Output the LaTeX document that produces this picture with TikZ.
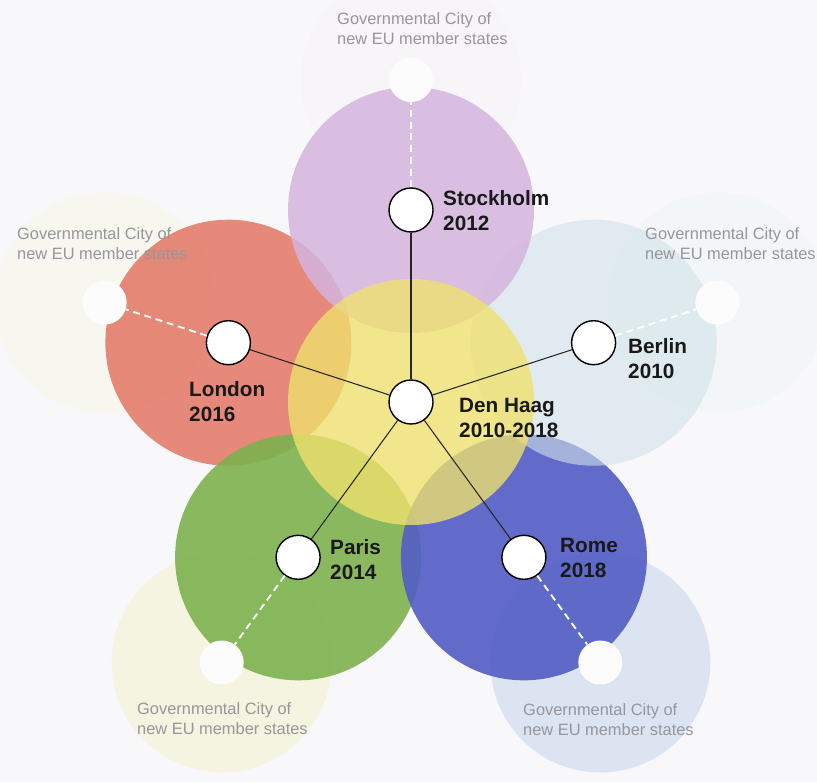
\documentclass[tikz,border=0pt]{standalone}
\usepackage{fontspec}
\setmainfont{Liberation Sans}
\definecolor{bgc}{RGB}{248,248,251}
\definecolor{petred}{RGB}{229,124,108}
\definecolor{petpurple}{RGB}{212,180,222}
\definecolor{petgreen}{RGB}{125,178,78}
\definecolor{petblue}{RGB}{82,92,196}
\definecolor{petlight}{RGB}{210,226,233}
\definecolor{petyellow}{RGB}{240,226,108}
\definecolor{faintblue}{RGB}{220,228,242}
\definecolor{faintyellow}{RGB}{244,244,224}
\definecolor{faintpink}{RGB}{248,245,249}
\definecolor{faintcyan}{RGB}{243,246,249}
\definecolor{faintleft}{RGB}{247,247,240}
\definecolor{spotc}{RGB}{252,252,253}
\definecolor{govgrey}{RGB}{150,150,156}
\begin{document}
\begin{tikzpicture}[x=0.03cm,y=-0.03cm,
  city/.style={circle,draw=black,line width=1.2pt,fill=white,minimum size=1.32cm,inner sep=0pt},
  spot/.style={circle,fill=spotc,minimum size=1.32cm,inner sep=0pt},
  link/.style={draw=black!85,line width=0.9pt},
  dashlink/.style={draw=white,line width=1.6pt,dash pattern=on 6pt off 4pt},
  petal/.style={fill opacity=0.9},
  lbl/.style={anchor=north west,inner sep=0pt,align=left,font=\fontsize{17.7}{21.3}\selectfont\bfseries,text=black!90},
  gov/.style={anchor=north west,inner sep=0pt,align=left,font=\fontsize{14}{17}\selectfont,text=govgrey}]
\fill[bgc] (0,0) rectangle (817,782);
\useasboundingbox (0,0) rectangle (817,782);
% faint outer circles
\fill[faintpink] (411,80) circle[radius=3.3cm];
\fill[faintcyan] (717.3,302.5) circle[radius=3.3cm];
\fill[faintleft] (104.7,302.5) circle[radius=3.3cm];
\fill[faintyellow] (221.7,662.5) circle[radius=3.3cm];
\fill[faintblue] (600.3,662.5) circle[radius=3.3cm];
% petals
\fill[petred,petal] (228.4,342.7) circle[radius=3.69cm];
\fill[petgreen,petal] (298.1,557.3) circle[radius=3.69cm];
\fill[petblue,petal] (523.9,557.3) circle[radius=3.69cm];
\fill[petlight,fill opacity=0.6] (593.6,342.7) circle[radius=3.69cm];
\fill[petpurple,fill opacity=0.85] (411,210) circle[radius=3.69cm];
\fill[petyellow,fill opacity=0.78] (411,402) circle[radius=3.69cm];
% outer spots
\node[spot] (sTop) at (411,80) {};
\node[spot] (sRight) at (717.3,302.5) {};
\node[spot] (sLeft) at (104.7,302.5) {};
\node[spot] (sBL) at (221.7,662.5) {};
\node[spot] (sBR) at (600.3,662.5) {};
% city nodes
\node[city] (haag) at (411,402) {};
\node[city] (stock) at (411,210) {};
\node[city] (berlin) at (593.6,342.7) {};
\node[city] (london) at (228.4,342.7) {};
\node[city] (paris) at (298.1,557.3) {};
\node[city] (rome) at (523.9,557.3) {};
% connectors
\draw[link] (haag) -- (stock);
\draw[link] (haag) -- (berlin);
\draw[link] (haag) -- (london);
\draw[link] (haag) -- (paris);
\draw[link] (haag) -- (rome);
\draw[dashlink] (stock) -- (sTop);
\draw[dashlink] (berlin) -- (sRight);
\draw[dashlink] (london) -- (sLeft);
\draw[dashlink] (paris) -- (sBL);
\draw[dashlink] (rome) -- (sBR);
% labels
\node[lbl] (lStock) at (443,190) {Stockholm\\2012};
\node[lbl] (lBerlin) at (628,338) {Berlin\\2010};
\node[lbl] (lHaag) at (459,398) {Den Haag\\2010-2018};
\node[lbl] (lLondon) at (189,381) {London\\2016};
\node[lbl] (lParis) at (330,539) {Paris\\2014};
\node[lbl] (lRome) at (560,538) {Rome\\2018};
% governmental city texts
\node[gov] (gTop) at (337,12) {Governmental City of\\new EU member states};
\node[gov] (gLeft) at (17,227) {Governmental City of\\new EU member states};
\node[gov] (gRight) at (645,227) {Governmental City of\\new EU member states};
\node[gov] (gBL) at (137,702) {Governmental City of\\new EU member states};
\node[gov] (gBR) at (523,703) {Governmental City of\\new EU member states};
\end{tikzpicture}
\end{document}
